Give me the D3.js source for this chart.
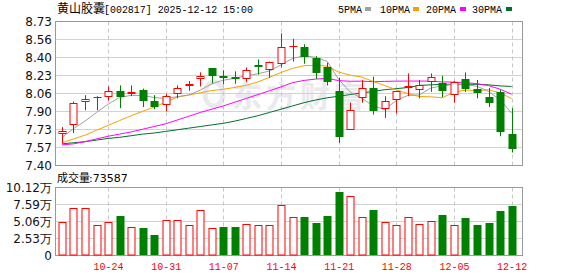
<!DOCTYPE html>
<html><head><meta charset="utf-8">
<script src="https://cdn.jsdelivr.net/npm/d3@7"></script>
<style>body{margin:0;background:#fff}svg{display:block}</style>
</head><body><svg id="c" width="578" height="276"></svg>
<script>
const dates=["10-20","10-21","10-22","10-23","10-24","10-27","10-28","10-29","10-30","10-31",
"11-03","11-04","11-05","11-06","11-07","11-10","11-11","11-12","11-13","11-14",
"11-17","11-18","11-19","11-20","11-21","11-24","11-25","11-26","11-27","11-28",
"12-01","12-02","12-03","12-04","12-05","12-08","12-09","12-10","12-11","12-12"];
const xTickLabels=["10-24","10-31","11-07","11-14","11-21","11-28","12-05","12-12"];
const open=[7.69,7.77,7.99,8.02,8.03,8.09,8.06,8.10,7.997,7.96,8.06,8.13,8.20,8.30,8.23,8.22,8.20,8.33,8.28,8.34,8.49,8.49,8.39,8.31,8.09,7.73,8.02,8.12,7.92,8.005,8.12,8.10,8.17,8.16,8.05,8.20,8.11,8.03,8.08,7.69];
const close=[7.72,7.98,8.01,8.03,8.09,8.03,8.08,8.00,7.94,8.04,8.12,8.155,8.225,8.23,8.21,8.20,8.28,8.315,8.36,8.49,8.50,8.40,8.25,8.17,7.66,7.91,8.115,7.90,7.997,8.09,8.135,8.14,8.22,8.09,8.17,8.11,8.07,7.98,7.705,7.55];
const high=[7.755,7.99,8.05,8.04,8.13,8.14,8.14,8.11,8.05,8.06,8.14,8.18,8.26,8.30,8.28,8.27,8.305,8.38,8.36,8.62,8.57,8.52,8.41,8.35,8.21,7.98,8.19,8.22,8.04,8.09,8.25,8.19,8.25,8.23,8.18,8.26,8.19,8.115,8.10,7.93];
const low=[7.607,7.70,7.91,7.91,8.00,7.93,8.04,7.94,7.92,7.90,8.02,8.09,8.13,8.16,8.15,8.155,8.17,8.24,8.21,8.305,8.36,8.34,8.20,8.14,7.61,7.73,7.98,7.87,7.84,7.88,8.04,8.02,8.08,8.03,7.98,8.08,8.02,7.94,7.67,7.52];
const prevClose0=7.70;
const volume=[50600,71000,71000,45700,50600,59500,41700,40600,29800,52100,52100,45700,67000,40200,41700,41700,47100,45700,45700,75400,58000,58000,49100,59500,95200,88800,58000,67000,50100,45700,58000,47100,51600,61000,45700,55100,46100,49100,65500,73587];
const ma5=[7.66,7.74,7.81,7.89,7.966,8.028,8.048,8.046,8.028,8.018,8.036,8.051,8.096,8.155,8.188,8.205,8.23,8.247,8.273,8.329,8.389,8.413,8.40,8.362,8.196,8.078,8.021,7.951,7.916,8.002,8.047,8.052,8.116,8.135,8.151,8.146,8.132,8.084,8.007,7.883];
const ma10=[7.61,7.645,7.68,7.725,7.77,7.815,7.86,7.90,7.94,7.985,8.032,8.05,8.072,8.092,8.104,8.121,8.141,8.172,8.214,8.259,8.297,8.322,8.324,8.318,8.263,8.234,8.217,8.176,8.139,8.099,8.063,8.037,8.034,8.026,8.077,8.097,8.092,8.10,8.071,8.017];
const ma20=[7.59,7.60,7.62,7.645,7.67,7.69,7.71,7.735,7.76,7.785,7.82,7.855,7.89,7.92,7.95,7.985,8.02,8.055,8.09,8.126,8.165,8.186,8.198,8.205,8.184,8.178,8.179,8.174,8.177,8.179,8.18,8.18,8.179,8.172,8.17,8.166,8.155,8.138,8.105,8.058];
const ma30=[7.60,7.61,7.62,7.635,7.65,7.66,7.675,7.69,7.70,7.715,7.73,7.745,7.76,7.775,7.79,7.81,7.835,7.86,7.89,7.92,7.95,7.98,8.005,8.025,8.04,8.055,8.07,8.085,8.10,8.11,8.12,8.14,8.145,8.15,8.15,8.15,8.15,8.145,8.135,8.13];
const priceTickLabels=["7.40","7.57","7.73","7.90","8.06","8.23","8.40","8.56","8.73"];
const volTickLabels=["0","2.53万","5.06万","7.59万","10.12万"];
const maNames=["5PMA","10PMA","20PMA","30PMA"];
const maColors=["#a0a0a0","#f2a300","#ff00ff","#00702e"];
const stockTitle="黄山胶囊";
const titleRest="[002817] 2025-12-12 15:00";
const volLabel="成交量:";
const lastVol="73587";

const RED="#ff0000",GREEN="#008000";
const svg=d3.select("#c");
const L=55,R=522,PT=21.5,PB=165.5,VT=187.5,VB=255.5;
const x=d3.scaleLinear().domain([-0.6,39.9]).range([L,R]);
const yP=d3.scaleLinear().domain([7.40,8.73]).range([PB,PT]);
const yV=d3.scaleLinear().domain([0,101200]).range([VB,VT]);
const idx=d3.range(dates.length);
const xTickIdx=xTickLabels.map(l=>dates.indexOf(l));
const pTickVals=priceTickLabels.map((_,i)=>7.40+i*(8.73-7.40)/8);
const vTickVals=volTickLabels.map((_,i)=>i*25300);
const px=v=>Math.round(v)+0.5;

// watermark
const wm=svg.append("g").attr("fill","#e9e9ee").attr("font-family","Noto Sans CJK SC").attr("font-weight","bold").attr("font-size",30);
wm.append("ellipse").attr("cx",214).attr("cy",94).attr("rx",9).attr("ry",12).attr("fill","none").attr("stroke","#e9e9ee").attr("stroke-width",5);
wm.append("text").attr("x",232).attr("y",107).attr("letter-spacing",4).text("东方财富");

// grids
function grid(top,bot,yScale,vals){
  const g=svg.append("g");
  g.selectAll("line.h").data(vals.slice(1,-1)).join("line")
    .attr("x1",L).attr("x2",R).attr("y1",d=>px(yScale(d)-0.5)).attr("y2",d=>px(yScale(d)-0.5))
    .attr("stroke","#d2d2d2");
  g.selectAll("line.v").data(xTickIdx).join("line")
    .attr("x1",d=>px(x(d))).attr("x2",d=>px(x(d))).attr("y1",top).attr("y2",bot)
    .attr("stroke","#c8c8c8").attr("stroke-dasharray","4,3");
  g.append("rect").attr("x",L+0.5).attr("y",top).attr("width",R-L).attr("height",bot-top)
    .attr("fill","none").attr("stroke","#999");
}
grid(PT,PB,yP,pTickVals);
grid(VT,VB,yV,vTickVals);

// MA lines
const cp=svg.append("clipPath").attr("id","cp").append("rect").attr("x",L).attr("y",PT).attr("width",R-L).attr("height",PB-PT);
const mag=svg.append("g").attr("clip-path","url(#cp)");
[ma30,ma20,ma10,ma5].forEach((arr,k)=>{
  const ci=3-k;
  mag.append("path").datum(arr).attr("fill","none").attr("stroke",maColors[ci]).attr("stroke-width",1)
    .attr("d",d3.line().x((d,i)=>x(i)).y(d=>yP(d)));
});

// candles
const cg=svg.append("g");
idx.forEach(i=>{
  const up=close[i]>=open[i];
  const col=up?RED:GREEN;
  const cx=px(x(i));
  const top=yP(Math.max(open[i],close[i])),bot=yP(Math.min(open[i],close[i]));
  const bt=Math.round(top),bb=Math.max(Math.round(bot),bt+1);
  if(up){
    cg.append("line").attr("x1",cx).attr("x2",cx).attr("y1",yP(high[i])).attr("y2",bt).attr("stroke",col);
    cg.append("line").attr("x1",cx).attr("x2",cx).attr("y1",bb).attr("y2",yP(low[i])).attr("stroke",col);
    cg.append("rect").attr("x",cx-3.5).attr("y",bt+0.5).attr("width",7).attr("height",Math.max(bb-bt-1,0.01))
      .attr("fill","#fff").attr("stroke",col);
  }else{
    cg.append("line").attr("x1",cx).attr("x2",cx).attr("y1",yP(high[i])).attr("y2",yP(low[i])).attr("stroke",col);
    cg.append("rect").attr("x",cx-4).attr("y",bt).attr("width",8).attr("height",Math.max(bb-bt,2)).attr("fill",col);
  }
});

// volume bars
const vg=svg.append("g");
idx.forEach(i=>{
  const pc=i===0?prevClose0:close[i-1];
  const up=close[i]>=pc;
  const cx=px(x(i));
  const t=Math.round(yV(volume[i]));
  if(up){
    vg.append("rect").attr("x",cx-3.5).attr("y",t+0.5).attr("width",7).attr("height",VB-0.5-t-0.5)
      .attr("fill","#fff").attr("stroke",RED);
  }else{
    vg.append("rect").attr("x",cx-4).attr("y",t).attr("width",8).attr("height",VB-0.5-t).attr("fill",GREEN);
  }
});

// axes
function styleAxis(g,ff,fs,col){
  g.select(".domain").remove();
  g.selectAll("text").attr("font-family",ff).attr("font-size",fs).attr("fill",col);
}
svg.append("g").attr("transform",`translate(${L},0)`)
  .call(d3.axisLeft(yP).tickValues(pTickVals).tickSize(0).tickPadding(3).tickFormat((d,i)=>priceTickLabels[i]))
  .call(g=>styleAxis(g,"DejaVu Sans",12,"#111"));
svg.append("g").attr("transform",`translate(${L},0)`)
  .call(d3.axisLeft(yV).tickValues(vTickVals).tickSize(0).tickPadding(3).tickFormat((d,i)=>volTickLabels[i]))
  .call(g=>styleAxis(g,"DejaVu Sans",12,"#111"));
svg.append("g").attr("transform",`translate(0,${VB})`)
  .call(d3.axisBottom(x).tickValues(xTickIdx).tickSize(0).tickPadding(7).tickFormat(i=>dates[i]))
  .call(g=>styleAxis(g,"Liberation Mono",10,RED));

// titles
svg.append("text").attr("x",57).attr("y",13).attr("font-family","Noto Sans CJK SC").attr("font-size",12).attr("fill","#000").text(stockTitle);
svg.append("text").attr("x",104).attr("y",13).attr("font-family","Liberation Mono").attr("font-size",11)
  .attr("textLength",149).attr("lengthAdjust","spacingAndGlyphs").attr("fill","#000").text(titleRest);
const legX=[338,380,426,472], sqX=[365,413,460,506];
maNames.forEach((n,i)=>{
  svg.append("text").attr("x",legX[i]).attr("y",12.5).attr("font-family","Liberation Mono").attr("font-size",10).attr("fill","#000").text(n);
  svg.append("rect").attr("x",sqX[i]).attr("y",7).attr("width",6).attr("height",4).attr("fill",maColors[i]);
});
svg.append("text").attr("x",57).attr("y",182).attr("font-family","Noto Sans CJK SC").attr("font-size",11).attr("fill","#000").text(volLabel.slice(0,3));
svg.append("text").attr("x",89).attr("y",182).attr("font-family","DejaVu Sans").attr("font-size",11).attr("fill","#000").text(volLabel.slice(3)+lastVol);
</script></body></html>
